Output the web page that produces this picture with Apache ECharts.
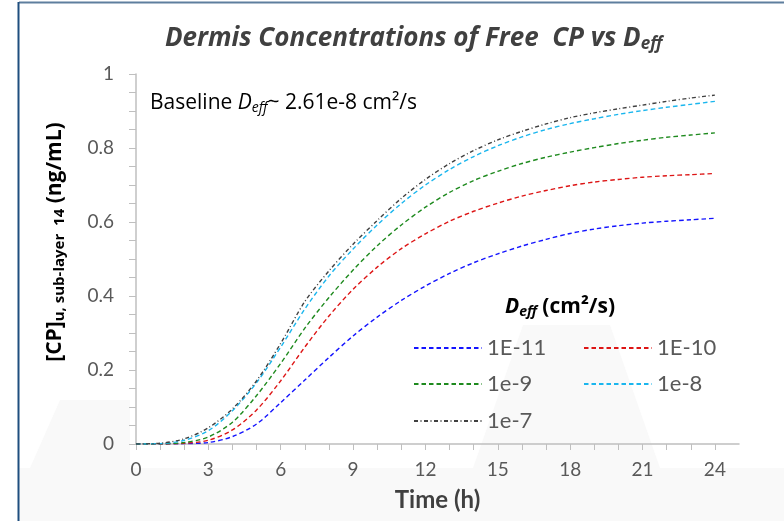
<!DOCTYPE html>
<html>
<head>
<meta charset="utf-8">
<script src="https://cdn.jsdelivr.net/npm/echarts@6/dist/echarts.min.js"></script>
<style>
  html, body { margin: 0; padding: 0; background: #fff; }
  #chart { width: 784px; height: 521px; }
</style>
</head>
<body>
<div id="chart"></div>
<script>
// time in hours
const hours = [0, 1, 2, 3, 4, 5, 6, 7, 8, 9, 10, 11, 12, 13, 14, 15, 16, 17, 18, 19, 20, 21, 22, 23, 24];

// [CP]u concentration (ng/mL) per Deff
const d1e11 = [0, 0, 0.001, 0.004, 0.020, 0.054, 0.112, 0.173, 0.234, 0.292, 0.343, 0.388, 0.427, 0.461, 0.490, 0.514, 0.535, 0.553, 0.569, 0.581, 0.590, 0.597, 0.602, 0.606, 0.610];
const d1e10 = [0, 0, 0.002, 0.010, 0.038, 0.092, 0.171, 0.262, 0.346, 0.418, 0.478, 0.528, 0.568, 0.602, 0.629, 0.651, 0.670, 0.685, 0.698, 0.708, 0.715, 0.721, 0.725, 0.728, 0.731];
const d1e9 = [0, 0.0005, 0.004, 0.019, 0.059, 0.131, 0.218, 0.313, 0.396, 0.470, 0.536, 0.592, 0.640, 0.680, 0.712, 0.737, 0.758, 0.775, 0.789, 0.801, 0.812, 0.821, 0.829, 0.835, 0.841];
const d1e8 = [0, 0.001, 0.010, 0.036, 0.090, 0.166, 0.262, 0.365, 0.454, 0.527, 0.592, 0.650, 0.700, 0.742, 0.777, 0.806, 0.830, 0.850, 0.866, 0.879, 0.891, 0.901, 0.910, 0.918, 0.926];
const d1e7 = [0, 0.002, 0.014, 0.044, 0.095, 0.171, 0.272, 0.385, 0.468, 0.540, 0.604, 0.664, 0.715, 0.758, 0.793, 0.822, 0.845, 0.865, 0.882, 0.895, 0.906, 0.916, 0.926, 0.935, 0.943];

const seriesNames = ['1E-11', '1E-10', '1e-9', '1e-8', '1e-7'];
const seriesData = [d1e11, d1e10, d1e9, d1e8, d1e7];
const seriesColors = ['#1414ff', '#dd1515', '#1e8a1e', '#1ab6ee', '#404040'];
const dashes = [[4.5, 3], [4.5, 3], [4.5, 3], [4.5, 3], [4, 2.5, 1, 2.5]];

const font = 'Lato, "Open Sans", sans-serif';
const wide = '"Open Sans", Lato, sans-serif';
const grey = '#bfbfbf';

// legend slots (two columns)
const legendPos = [[413, 348], [583, 348], [413, 384], [583, 384], [413, 421]];

const chart = echarts.init(document.getElementById('chart'));

const pairs = arr => hours.map((h, i) => [h, arr[i]]);

chart.setOption({
  backgroundColor: '#fff',
  animation: false,
  title: {
    text: '{a|Dermis Concentrations of Free  CP vs D}{b|eff}',
    left: 165,
    top: 24,
    padding: 0,
    textStyle: {
      rich: {
        a: { fontFamily: wide, fontSize: 26, fontWeight: 'bold', fontStyle: 'italic', color: '#404040' },
        b: { fontFamily: wide, fontSize: 17, fontWeight: 'bold', fontStyle: 'italic', color: '#404040', padding: [12, 0, 0, 0] }
      }
    }
  },
  grid: { left: 136, right: 45, top: 74, bottom: 77, containLabel: false },
  legend: seriesNames.map((n, i) => ({
    data: [n],
    left: legendPos[i][0],
    top: legendPos[i][1] - 12,
    padding: 0,
    itemWidth: 68,
    itemHeight: 10,
    selectedMode: false,
    itemStyle: { opacity: 0, borderWidth: 0 },
    textStyle: { fontFamily: font, fontSize: 22, color: '#595959', lineHeight: 24 }
  })),
  xAxis: {
    type: 'value',
    min: 0,
    max: 25,
    interval: 1,
    name: 'Time (h)',
    nameLocation: 'middle',
    nameGap: 44,
    nameTextStyle: { fontFamily: font, fontSize: 24, fontWeight: 'bold', color: '#404040' },
    axisLine: { show: true, lineStyle: { color: grey, width: 1.5 } },
    axisTick: { show: true, length: 6, lineStyle: { color: grey, width: 1 } },
    splitLine: { show: false },
    axisLabel: {
      fontFamily: font, fontSize: 19, color: '#595959', margin: 16, showMaxLabel: false,
      formatter: v => (Math.round(v) % 3 === 0 ? String(Math.round(v)) : '')
    }
  },
  yAxis: {
    type: 'value',
    min: 0,
    max: 1,
    interval: 0.05,
    axisLine: { show: true, lineStyle: { color: grey, width: 1.5 } },
    axisTick: { show: true, length: 7, lineStyle: { color: grey, width: 1 } },
    splitLine: { show: false },
    axisLabel: {
      fontFamily: font, fontSize: 19, color: '#595959', margin: 22,
      formatter: v => {
        const k = v * 5;
        if (Math.abs(k - Math.round(k)) > 1e-6) return '';
        const r = Math.round(k) / 5;
        return r === 0 || r === 1 ? String(r) : r.toFixed(1);
      }
    }
  },
  graphic: [
    // faint slide background shapes
    { type: 'polygon', z: -10, shape: { points: [[19, 468], [784, 468], [784, 521], [19, 521]] }, style: { fill: '#f9f9f9' } },
    { type: 'polygon', z: -9, shape: { points: [[523, 325], [610, 325], [660, 468], [473, 468]] }, style: { fill: '#f9f9f9' } },
    { type: 'polygon', z: -9, shape: { points: [[60, 400], [130, 400], [130, 468], [30, 468]] }, style: { fill: '#f9f9f9' } },
    // slide frame
    { type: 'line', shape: { x1: 19, y1: 2.5, x2: 784, y2: 2.5 }, style: { stroke: '#5e7e9e', lineWidth: 2 } },
    { type: 'line', shape: { x1: 18.5, y1: 2, x2: 18.5, y2: 521 }, style: { stroke: '#1f4e7f', lineWidth: 2 } },
    // annotation
    {
      type: 'text', x: 150, y: 103,
      style: {
        text: '{n|Baseline }{i|D}{s|eff}{n|~ 2.61e-8 cm²/s}',
        verticalAlign: 'middle', align: 'left',
        rich: {
          n: { fontFamily: wide, fontSize: 21, color: '#262626' },
          i: { fontFamily: wide, fontSize: 21, fontStyle: 'italic', color: '#262626' },
          s: { fontFamily: wide, fontSize: 14, fontStyle: 'italic', color: '#262626', padding: [10, 0, 0, 0] }
        }
      }
    },
    // legend title
    {
      type: 'text', x: 560, y: 307,
      style: {
        text: '{i|D}{s|eff}{n| (cm²/s)}',
        verticalAlign: 'middle', align: 'center',
        rich: {
          i: { fontFamily: wide, fontSize: 21, fontWeight: 'bold', fontStyle: 'italic', color: '#000' },
          s: { fontFamily: wide, fontSize: 14, fontWeight: 'bold', fontStyle: 'italic', color: '#000', padding: [10, 0, 0, 0] },
          n: { fontFamily: wide, fontSize: 21, fontWeight: 'bold', color: '#000' }
        }
      }
    },
    // y axis title
    {
      type: 'text', x: 55, y: 242, rotation: Math.PI / 2,
      style: {
        text: '{n|[CP]}{s|u, sub-layer  14}{n| (ng/mL)}',
        verticalAlign: 'middle', align: 'center',
        rich: {
          n: { fontFamily: wide, fontSize: 21, fontWeight: 'bold', color: '#404040' },
          s: { fontFamily: wide, fontSize: 15, fontWeight: 'bold', color: '#404040', padding: [10, 0, 0, 0] }
        }
      }
    }
  ],
  series: seriesNames.map((n, i) => ({
    name: n,
    type: 'line',
    data: pairs(seriesData[i]),
    showSymbol: false,
    symbol: 'none',
    smooth: 0.3,
    color: seriesColors[i],
    lineStyle: { color: seriesColors[i], width: 1.4, type: dashes[i] }
  }))
});
</script>
</body>
</html>
